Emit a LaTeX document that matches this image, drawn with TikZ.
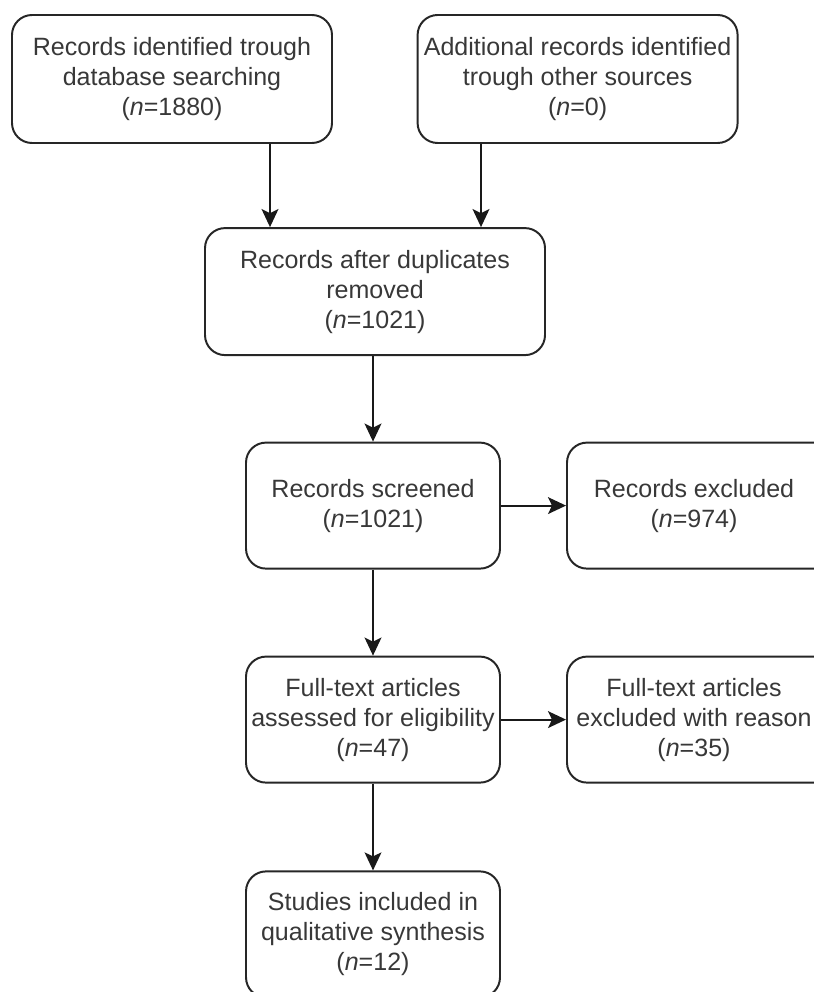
\documentclass[tikz,border=0pt]{standalone}
\usepackage{fontspec}
\setmainfont{Liberation Sans}
\usetikzlibrary{arrows.meta}

\begin{document}
\begin{tikzpicture}
  \tikzset{stage/.style = {
      shape = rectangle,
      rounded corners = 0.5cm,
      draw = black!85,
      line width = 1.4pt,
      text = black!78,
      align = center,
      inner sep = 0pt,
      font = \fontsize{17.8}{21.3}\selectfont},
    wide/.style = {stage, minimum width = 8cm, minimum height = 3.2cm},
    narrow/.style = {stage, minimum width = 6.35cm, minimum height = 3.15cm},
    flow/.style = {line width = 1.4pt, draw = black!90,
      -{Stealth[length=0.45cm,width=0.42cm,inset=0.1cm]}}}
  \useasboundingbox (0,0) rectangle (20.325,-24.8);

  %% identification
  \node[wide] (db) at (4.3,-1.975)
    {Records identified trough\\database searching\\(\textit{n}=1880)};
  \node[wide] (other) at (14.44,-1.975)
    {Additional records identified\\trough other sources\\(\textit{n}=0)};
  \node[stage, minimum width = 8.5cm, minimum height = 3.175cm] (dedup) at (9.375,-7.29)
    {Records after duplicates\\removed\\(\textit{n}=1021)};

  %% screening and eligibility
  \node[narrow] (screen) at (9.325,-12.64) {Records screened\\(\textit{n}=1021)};
  \node[narrow, minimum width = 6.7cm] (excl) at (17.525,-12.64)
    {\hspace*{-0.35cm}Records excluded\\\hspace*{-0.35cm}(\textit{n}=974)};
  \node[narrow] (full) at (9.325,-17.99)
    {Full-text articles\\assessed for eligibility\\(\textit{n}=47)};
  \node[narrow, minimum width = 6.7cm] (fullexcl) at (17.525,-17.99)
    {\hspace*{-0.35cm}Full-text articles\\\hspace*{-0.35cm}excluded with reason\\\hspace*{-0.35cm}(\textit{n}=35)};

  %% included
  \node[narrow] (incl) at (9.325,-23.36)
    {Studies included in\\qualitative synthesis\\(\textit{n}=12)};

  \coordinate (dbdrop) at (6.75,0);
  \coordinate (otherdrop) at (12.025,0);
  \draw[flow] (db.south -| dbdrop) -- (dedup.north -| dbdrop);
  \draw[flow] (other.south -| otherdrop) -- (dedup.north -| otherdrop);
  \draw[flow] (dedup.south -| screen.north) -- (screen.north);
  \draw[flow] (screen) -- (excl);
  \draw[flow] (screen) -- (full);
  \draw[flow] (full) -- (fullexcl);
  \draw[flow] (full) -- (incl);
\end{tikzpicture}
\end{document}
